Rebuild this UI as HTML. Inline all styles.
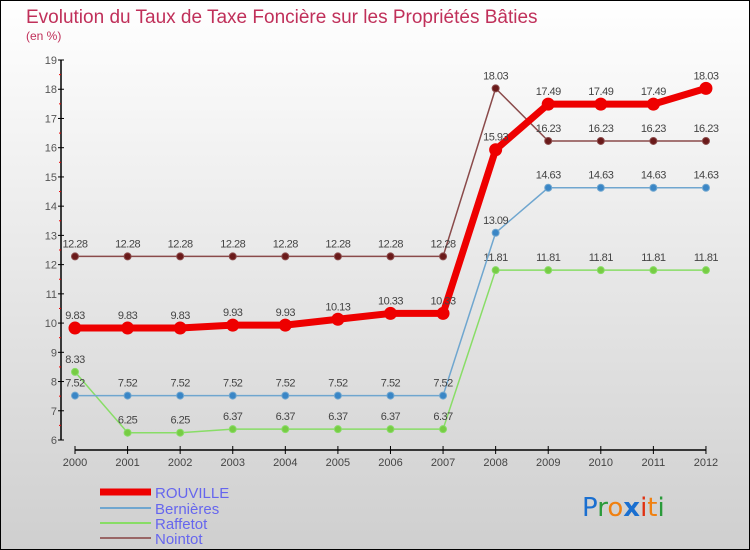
<!DOCTYPE html>
<html><head><meta charset="utf-8"><style>
body{margin:0}
#c{width:750px;height:550px;position:relative;overflow:hidden;font-family:"Liberation Sans",sans-serif}
</style></head><body>
<div id="c">
<svg id="s" width="750" height="550" xmlns="http://www.w3.org/2000/svg">
<defs><linearGradient id="bg" x1="0" y1="0" x2="0" y2="1"><stop offset="0" stop-color="#ffffff"/><stop offset="1" stop-color="#cfcfcf"/></linearGradient></defs>
<rect x="0.5" y="0.5" width="749" height="549" fill="url(#bg)" stroke="#000"/>
<text x="26" y="23" font-size="19" fill="#c0305a">Evolution du Taux de Taxe Foncière sur les Propriétés Bâties</text>
<text x="26" y="40" font-size="12" fill="#c0305a">(en %)</text>
<g id="axes"></g><g id="series"></g>
<g>
<line x1="100" y1="492" x2="151" y2="492" stroke="#ee0000" stroke-width="7"/>
<text x="155" y="498" font-size="15" fill="#6666ee">ROUVILLE</text>
<line x1="100" y1="508" x2="151" y2="508" stroke="#6fa6cf" stroke-width="2"/>
<text x="155" y="514" font-size="15" fill="#6666ee">Bernières</text>
<line x1="100" y1="523" x2="151" y2="523" stroke="#88dd66" stroke-width="2"/>
<text x="155" y="529" font-size="15" fill="#6666ee">Raffetot</text>
<line x1="100" y1="538" x2="151" y2="538" stroke="#996666" stroke-width="2"/>
<text x="155" y="544" font-size="15" fill="#6666ee">Nointot</text>
</g>
<g font-size="26" font-family="'DejaVu Sans',sans-serif">
<text x="582" y="516"><tspan fill="#1a6fd0">P</tspan><tspan fill="#2a9a3a">r</tspan><tspan fill="#f08010">o</tspan><tspan fill="#1a6fd0" font-weight="bold">x</tspan><tspan fill="#e03010">i</tspan><tspan fill="#f08010">t</tspan><tspan fill="#2a9a3a">i</tspan></text>
</g>
</svg>
</div>
<script>
const years=[2000,2001,2002,2003,2004,2005,2006,2007,2008,2009,2010,2011,2012];
const yTicks=[6,7,8,9,10,11,12,13,14,15,16,17,18,19];
const rouville=[9.83,9.83,9.83,9.93,9.93,10.13,10.33,10.33,15.93,17.49,17.49,17.49,18.03];
const bernieres=[7.52,7.52,7.52,7.52,7.52,7.52,7.52,7.52,13.09,14.63,14.63,14.63,14.63];
const raffetot=[8.33,6.25,6.25,6.37,6.37,6.37,6.37,6.37,11.81,11.81,11.81,11.81,11.81];
const nointot=[12.28,12.28,12.28,12.28,12.28,12.28,12.28,12.28,18.03,16.23,16.23,16.23,16.23];
const NS="http://www.w3.org/2000/svg";
const xS=i=>75+i*52.58;
const yS=v=>440-(v-6)*29.23;
function mk(tag,attrs,parent){const e=document.createElementNS(NS,tag);for(const k in attrs)e.setAttribute(k,attrs[k]);parent.appendChild(e);return e;}
const ax=document.getElementById('axes');
let yl=mk('line',{x1:61,y1:yS(19),x2:61,y2:yS(6),stroke:'#000','stroke-width':1.5},ax);


yTicks.forEach(t=>{
 mk('line',{x1:58,y1:yS(t),x2:64,y2:yS(t),stroke:'#000'},ax);
 if(t<19)mk('line',{x1:59,y1:yS(t+0.5),x2:61,y2:yS(t+0.5),stroke:'#e00'},ax);
 const tx=mk('text',{x:57,y:yS(t)+4,'font-size':11,fill:'#555','text-anchor':'end'},ax);
 tx.textContent=t;
 
 
});
let xl=mk('line',{x1:xS(0),y1:450,x2:xS(12),y2:450,stroke:'#000','stroke-width':1.5},ax);


years.forEach((y,i)=>{
 mk('line',{x1:xS(i),y1:446,x2:xS(i),y2:454,stroke:'#000'},ax);
 const tx=mk('text',{x:xS(i),y:466,'font-size':11,fill:'#444','text-anchor':'middle'},ax);
 tx.textContent=y;
 
 
});
const sg=document.getElementById('series');
function series(name,vals,color,w,r,fill){
 const g=mk('g',{},sg);
 
 
 mk('polyline',{points:vals.map((v,i)=>xS(i)+','+yS(v)).join(' '),fill:'none',stroke:color,'stroke-width':w,'stroke-linejoin':'round'},g);
 vals.forEach((v,i)=>{
  const c=mk('circle',{cx:xS(i),cy:yS(v),r:r,fill:fill,stroke:color,'stroke-width':1},g);
  
  
  const t=mk('text',{x:xS(i),y:yS(v)-9,'font-size':11,fill:'#444','text-anchor':'middle','letter-spacing':'-0.5'},g);
  t.textContent=v.toFixed(2);
  
  
 });
}
series('nointot',nointot,'#8a4a4a',1.5,3.5,'#6a1a1a');
series('raffetot',raffetot,'#88dd66',1.5,3.5,'#77cc44');
series('bernieres',bernieres,'#6fa6cf',1.5,3.5,'#3a86c6');
series('rouville',rouville,'#ee0000',7,6,'#ee0000');
</script>
</body></html>
